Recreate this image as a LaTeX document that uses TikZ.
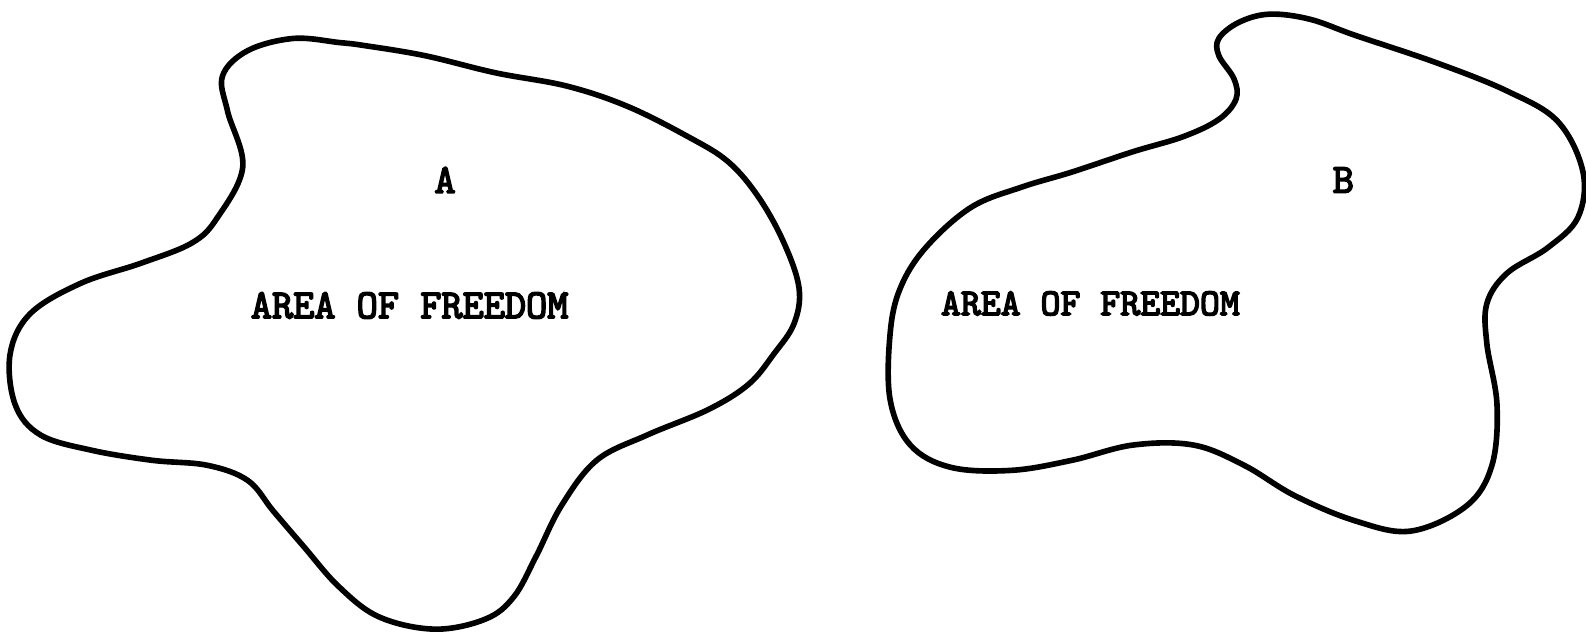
\documentclass[tikz,border=0pt]{standalone}
\usepackage{fontspec}
\newfontfamily\typefont[FakeBold=4]{Latin Modern Mono}
\usetikzlibrary{positioning}
\tikzset{
  % contorno di una regione
  blob/.style={line width=1.6pt, line join=round, black},
  % scritte a macchina
  lbl/.style={font=\typefont\fontsize{11.7}{13}\selectfont, inner sep=0pt},
  lbl small/.style={lbl, font=\typefont\fontsize{10.8}{12}\selectfont},
}
\begin{document}
\begin{tikzpicture}[x=0.010115cm, y=-0.010115cm]
  \useasboundingbox (0,0) rectangle (1568,626);
  % regione A
  \draw[blob] plot[smooth cycle, tension=0.6] coordinates {
    (245,50) (290,38) (335,42) (360,45) (420,55) (490,72) (560,85) (620,105)
    (680,135) (720,160) (750,195) (775,240) (790,285) (785,320) (765,350)
    (740,380) (700,405) (640,430) (590,455) (555,500) (530,550) (508,590)
    (480,612) (430,622) (375,610) (335,580) (300,540) (270,505) (245,475)
    (205,460) (150,455) (90,445) (40,430) (15,400) (10,350) (30,310)
    (80,280) (140,260) (190,240) (215,215) (240,165) (225,110) (220,75)};
  \node[lbl] (labA) at (440,178) {A};
  \node[lbl] (areaA) at (405,302) {AREA OF FREEDOM};
  % regione B
  \draw[blob] plot[smooth cycle, tension=0.6] coordinates {
    (1205,38) (1225,22) (1255,14) (1295,19) (1340,35) (1420,62) (1490,90)
    (1540,120) (1565,170) (1560,215) (1530,245) (1490,270) (1470,300)
    (1470,340) (1480,400) (1475,460) (1450,500) (1395,525) (1340,515)
    (1280,490) (1230,460) (1180,440) (1120,440) (1060,455) (1000,465)
    (940,462) (900,440) (880,395) (880,330) (890,285) (915,245) (960,205)
    (1010,185) (1060,170) (1120,150) (1170,135) (1205,118) (1222,98)
    (1220,78) (1205,55)};
  \node[lbl] (labB) at (1328,178) {B};
  \node[lbl small] (areaB) at (1078,300) {AREA OF FREEDOM};
\end{tikzpicture}
\end{document}
